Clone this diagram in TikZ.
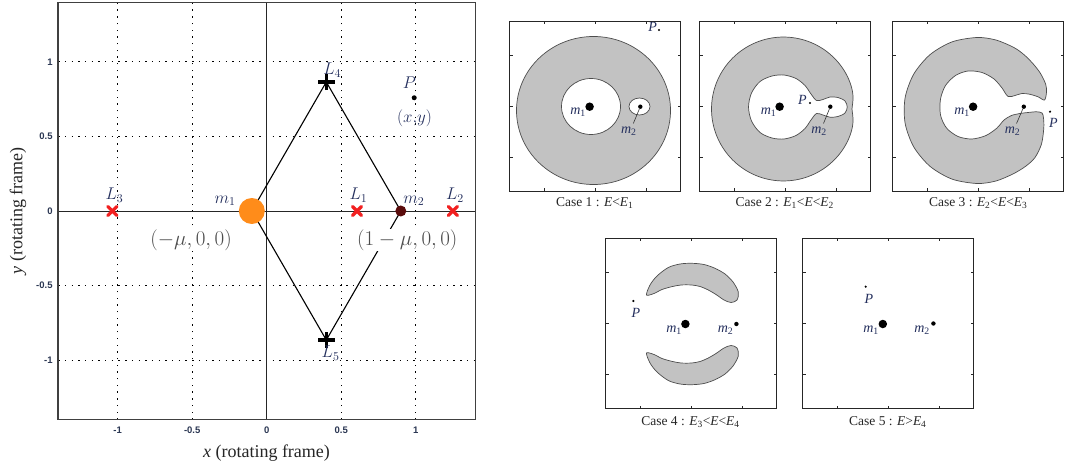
\RequirePackage{fix-cm}
\documentclass[tikz,border=0pt]{standalone}
\usepackage{fontspec}
\setmainfont{Liberation Serif}
\newfontfamily\ticksfont{Liberation Sans}
\usetikzlibrary{shapes.misc}
\definecolor{mOrange}{HTML}{FF8C1A}
\definecolor{mMaroon}{HTML}{5A0C0C}
\definecolor{lblBlue}{HTML}{25305E}
\definecolor{tickBlue}{HTML}{2A3652}
\definecolor{regionGray}{HTML}{C2C2C2}
\definecolor{edgeGray}{HTML}{4D4D4D}
\definecolor{xRed}{HTML}{F22020}
\begin{document}
\begin{tikzpicture}[x=1pt, y=-1pt,
  gridline/.style={black, line width=1pt, dash pattern=on 1.4pt off 5.3pt},
  axisline/.style={black!85, line width=0.9pt},
  plotframe/.style={draw=black!75, line width=1.3pt},
  tri/.style={black, line width=1.1pt},
  xmark/.style={cross out, draw=xRed, line width=3.2pt, line cap=round, minimum size=6pt, inner sep=0pt},
  plusmark/.style={cross out, draw=black, line width=3.6pt, minimum size=8pt, inner sep=0pt, rotate=45},
  mass1/.style={circle, fill=mOrange, minimum size=26pt, inner sep=0pt},
  mass2/.style={circle, fill=mMaroon, minimum size=11pt, inner sep=0pt},
  pointdot/.style={circle, fill=black, minimum size=5pt, inner sep=0pt},
  ptlabel/.style={text=lblBlue, font=\fontsize{17}{20}\selectfont, inner sep=0pt},
  coordlabel/.style={text=black!70, font=\fontsize{21}{24}\selectfont, fill=white, inner sep=1pt},
  ticklabel/.style={text=tickBlue, font=\ticksfont\bfseries\fontsize{9.5}{11}\selectfont, inner sep=0pt},
  axislabel/.style={text=black!85, font=\fontsize{18}{21}\selectfont, inner sep=0pt},
  panelframe/.style={draw=black!85, line width=1pt},
  paneltick/.style={black!85, line width=0.8pt},
  region/.style={fill=regionGray, draw=edgeGray, line width=0.7pt, even odd rule},
  bigdot/.style={circle, fill=black, minimum size=8.5pt, inner sep=0pt},
  smalldot/.style={circle, fill=black, minimum size=4.4pt, inner sep=0pt},
  pdot/.style={circle, fill=black, minimum size=2.4pt, inner sep=0pt},
  plabel/.style={text=lblBlue, font=\fontsize{14}{16}\selectfont, inner sep=0pt},
  caption/.style={text=black!85, font=\fontsize{13.5}{15}\selectfont, inner sep=0pt},
  leader/.style={black!80, line width=0.6pt}]
\useasboundingbox (0,0) rectangle (1065,470);
\fill[white] (0,0) rectangle (1065,470);

% ---------------- left plot ----------------
\begin{scope}[shift={(266.7,211)}, x=149pt, y=149pt]
  \foreach \v in {-1,-0.5,0.5,1} {
    \draw[gridline] (\v,-1.4) -- (\v,1.4);
    \draw[gridline] (-1.4,\v) -- (1.4,\v);
  }
  \draw[axisline] (0,-1.4) -- (0,1.4);
  \draw[axisline] (-1.4,0) -- (1.4,0);
  \coordinate (m1) at (-0.1,0);
  \coordinate (m2) at (0.9,0);
  \coordinate (L4) at (0.4,0.866);
  \coordinate (L5) at (0.4,-0.866);
  \draw[tri] (m1) -- (L4) -- (m2) -- (L5) -- cycle;
  \node[coordlabel] (c1lab) at ([xshift=-60.7pt, yshift=-29pt]m1) {$(-\mu,0,0)$};
  \node[coordlabel] (c2lab) at ([xshift=6.5pt, yshift=-29pt]m2) {$(1-\mu,0,0)$};
  \node[xmark] (L1m) at (0.606,0) {};
  \node[xmark] (L2m) at (1.25,0) {};
  \node[xmark] (L3m) at (-1.036,0) {};
  \node[plusmark] (L4m) at (L4) {};
  \node[plusmark] (L5m) at (L5) {};
  \node[mass1] (m1m) at (m1) {};
  \node[mass2] (m2m) at (m2) {};
  \node[pointdot] (Pm) at (0.99,0.76) {};
  \node[ptlabel] (L1l) at ([xshift=1.5pt, yshift=16pt]L1m) {$L_1$};
  \node[ptlabel] (L2l) at ([xshift=2pt, yshift=16pt]L2m) {$L_2$};
  \node[ptlabel] (L3l) at ([xshift=2.2pt, yshift=16pt]L3m) {$L_3$};
  \node[ptlabel] (L4l) at ([xshift=6pt, yshift=12pt]L4m) {$L_4$};
  \node[ptlabel] (L5l) at ([xshift=4.3pt, yshift=-13pt]L5m) {$L_5$};
  \node[ptlabel] (m1l) at ([xshift=-26.7pt, yshift=10pt]m1m) {$m_1$};
  \node[ptlabel] (m2l) at ([xshift=13pt, yshift=10pt]m2m) {$m_2$};
  \node[ptlabel] (Pl) at ([xshift=-4.7pt, yshift=14.7pt]Pm) {$P$};
  \node[ptlabel] (xyl) at ([xshift=0.3pt, yshift=-20.3pt]Pm) {$(x{,}y)$};
  \draw[plotframe] (-1.4,-1.4) rectangle (1.4,1.4);
  \foreach \v/\t [count=\i] in {1/1, 0.5/0.5, 0/0, -0.5/-0.5, -1/-1} {
    \node[ticklabel, anchor=east] (yt\i) at (-1.4356,\v) {\t};
  }
  \foreach \v/\t [count=\i] in {-1/-1, -0.5/-0.5, 0/0, 0.5/0.5, 1/1} {
    \node[ticklabel] (xt\i) at (\v,-1.47) {\t};
  }
\end{scope}
\node[axislabel] (xlab) at (266.5,453) {\textit{x} (rotating frame)};
\node[axislabel, rotate=90] (ylab) at (18,211) {\textit{y} (rotating frame)};

% ---------------- panel regions ----------------
% Case 1
\path[region] (593.5,110.5) ellipse [x radius=77, y radius=74]
  (591,106.5) ellipse [x radius=29.5, y radius=28]
  (639.5,106.5) ellipse [x radius=10.5, y radius=8.5];
% Case 2
\path[region] plot[smooth cycle, samples=72, domain=-180:175, variable=\t]
  ({783.5+(72-3.5/(1+(\t/8)^2))*cos(\t)}, {109-(72-3.5/(1+(\t/8)^2))*sin(\t)})
  plot[smooth cycle] coordinates {(748.5,107) (751.5,93) (760,81.5) (772,76) (784,75) (796,78.5) (805,85.5) (811,94) (816.5,100.5) (823,99.5) (830,97) (838,97.5) (845,101) (847.2,107) (845,113) (838,116.5) (830,117.2) (823,115) (816.5,113.5) (811,120) (805,128.5) (796,135.5) (784,139) (772,138) (760,132.5) (751.5,121)};
% Case 3
\path[region] plot[smooth cycle] coordinates {(1044.5,100) (1046.5,92) (1045.6,84) (1040.2,73) (1032.9,63.6) (1023.9,54.6)
  (1013.5,47.3) (995.9,40) (977,37.5) (952,41.9) (930.1,54.6) (913.8,74) (905.1,97.8) (905.1,123.2) (913.8,147) (930.1,166.4) (952,179.1) (977,183.5) (995.9,181) (1013.5,173.7)
  (1026,166) (1035,157.5) (1041.5,144) (1043.8,128) (1043.5,118) (1042,113)
  (1036.5,111.8) (1028,112.5) (1020,113.5) (1011.5,115.5) (1004,120) (997,128) (986,135.5) (972,139) (958,136.5) (946.5,128) (940.5,115) (940.5,99) (945.5,85.5) (955.5,75.5) (968,71) (982,72.5) (994,79) (1002,88) (1008,96.5) (1015,95.5) (1022,93.5) (1030,94.3) (1038,96.8)};
% Case 4
\path[region] plot[smooth cycle] coordinates {(646.5,295) (650,285) (657,276) (668.3,267.5) (680,264) (691.7,263.3) (704,264.5) (715,268.3) (725,274) (733,282) (738.3,292) (737,300) (731,302.5) (724,300) (716,294.5) (708.3,290) (700,286.5) (691.7,285) (681,285) (671.7,286.7) (662,289.5) (654,293.5)};
\path[region] plot[smooth cycle] coordinates {(646.5,353) (650,363) (657,372) (668.3,380.5) (680,384) (691.7,384.7) (704,383.5) (715,379.7) (725,374) (733,366) (738.3,356) (737,348) (731,345.5) (724,348) (716,353.5) (708.3,358) (700,361.5) (691.7,363) (681,363) (671.7,361.3) (662,358.5) (654,354.5)};

% ---------------- panel frames and ticks ----------------
\foreach \cx/\cy in {595/106.5, 785/106.5, 978/106.5, 691/323.5, 888/323.5} {
  \draw[panelframe] (\cx-85.5,\cy-85) rectangle (\cx+85.5,\cy+85);
  \foreach \d in {-51,0,51} {
    \draw[paneltick] (\cx+\d,\cy-85) -- (\cx+\d,\cy-82);
    \draw[paneltick] (\cx+\d,\cy+85) -- (\cx+\d,\cy+82);
    \draw[paneltick] (\cx-85.5,\cy+\d) -- (\cx-82.5,\cy+\d);
    \draw[paneltick] (\cx+85.5,\cy+\d) -- (\cx+82.5,\cy+\d);
  }
}

% ---------------- panel bodies and labels ----------------
% Case 1
\node[bigdot] (p1m1) at (589.6,106.7) {};
\node[smalldot] (p1m2) at (640.3,106.7) {};
\node[plabel] (p1m1l) at (578,112) {\textit{m}\textsubscript{1}};
\node[plabel] (p1m2l) at (628.8,131.5) {\textit{m}\textsubscript{2}};
\coordinate (p1lead) at (633.3,123.5);
\draw[leader] (p1lead) -- (p1m2);
\node[pdot] (p1P) at (659,30) {};
\node[plabel] (p1Pl) at (652.7,26.7) {\textit{P}};
% Case 2
\node[bigdot] (p2m1) at (779.6,106.7) {};
\node[smalldot] (p2m2) at (830.3,106.7) {};
\node[plabel] (p2m1l) at (768.5,112) {\textit{m}\textsubscript{1}};
\node[plabel] (p2m2l) at (819,131.5) {\textit{m}\textsubscript{2}};
\coordinate (p2lead) at (823.5,123.5);
\draw[leader] (p2lead) -- (p2m2);
\node[pdot] (p2P) at (810,103) {};
\node[plabel] (p2Pl) at (802.5,99.5) {\textit{P}};
% Case 3
\node[bigdot] (p3m1) at (973.1,106.7) {};
\node[smalldot] (p3m2) at (1023.8,106.7) {};
\node[plabel] (p3m1l) at (962,112) {\textit{m}\textsubscript{1}};
\node[plabel] (p3m2l) at (1012.5,131) {\textit{m}\textsubscript{2}};
\coordinate (p3lead) at (1016.5,123.5);
\draw[leader] (p3lead) -- (p3m2);
\node[pdot] (p3P) at (1050,111.7) {};
\node[plabel] (p3Pl) at (1053.3,123) {\textit{P}};
% Case 4
\node[bigdot] (p4m1) at (685.4,324) {};
\node[smalldot] (p4m2) at (736.4,324) {};
\node[plabel] (p4m1l) at (674,330.5) {\textit{m}\textsubscript{1}};
\node[plabel] (p4m2l) at (725.5,330.5) {\textit{m}\textsubscript{2}};
\node[pdot] (p4P) at (633.3,301) {};
\node[plabel] (p4Pl) at (636,312.5) {\textit{P}};
% Case 5
\node[bigdot] (p5m1) at (882.8,324) {};
\node[smalldot] (p5m2) at (933.4,323.5) {};
\node[plabel] (p5m1l) at (871,330.5) {\textit{m}\textsubscript{1}};
\node[plabel] (p5m2l) at (922,330.5) {\textit{m}\textsubscript{2}};
\node[pdot] (p5P) at (865.7,286.7) {};
\node[plabel] (p5Pl) at (869,298.5) {\textit{P}};

% captions
\node[caption] (cap1) at (594.7,203) {Case 1 : \textit{E}<\textit{E}\textsubscript{1}};
\node[caption] (cap2) at (784.7,203) {Case 2 : \textit{E}\textsubscript{1}<\textit{E}<\textit{E}\textsubscript{2}};
\node[caption] (cap3) at (978.2,203) {Case 3 : \textit{E}\textsubscript{2}<\textit{E}<\textit{E}\textsubscript{3}};
\node[caption] (cap4) at (690.5,422.5) {Case 4 : \textit{E}\textsubscript{3}<\textit{E}<\textit{E}\textsubscript{4}};
\node[caption] (cap5) at (887.8,422.5) {Case 5 : \textit{E}>\textit{E}\textsubscript{4}};
\end{tikzpicture}
\end{document}
